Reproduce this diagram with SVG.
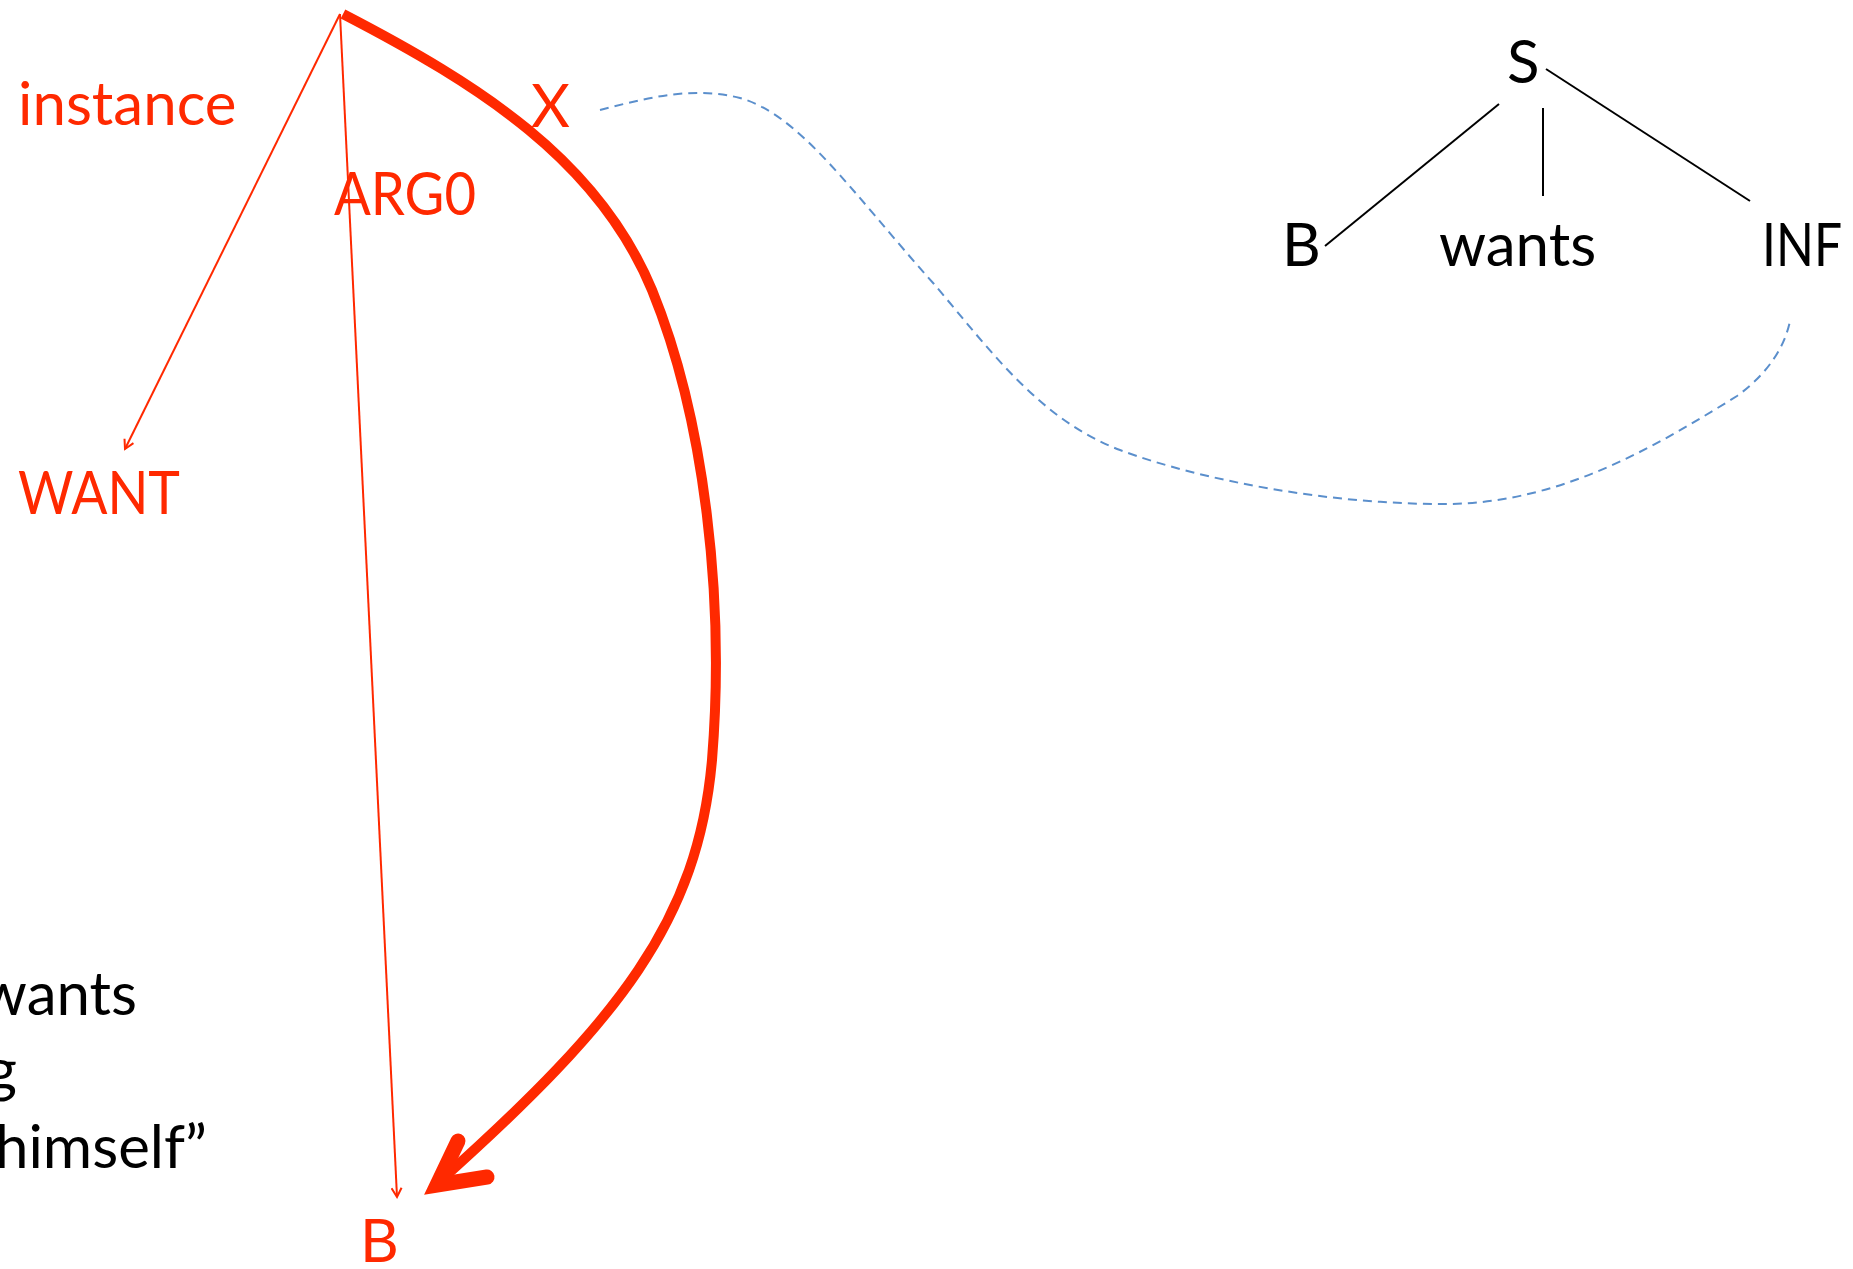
<svg xmlns="http://www.w3.org/2000/svg" width="1853" height="1269" viewBox="0 0 1853 1269">
<style>
text{font-family:Lato,"Liberation Sans",Arial,sans-serif;font-size:60px}
.r{fill:#FF2900}
.k{fill:#000}
.thin{stroke:#FF2900;stroke-width:2;fill:none}
.tree{stroke:#000;stroke-width:2;fill:none}
</style>
<defs>
<marker id="sa" viewBox="0 0 12 12" refX="10" refY="6" markerWidth="12" markerHeight="12" markerUnits="userSpaceOnUse" orient="auto">
<path d="M1,1 L10,6 L1,11" fill="none" stroke="#FF2900" stroke-width="2"/>
</marker>
</defs>
<g id="connectors">
<line class="thin" x1="340" y1="14" x2="125" y2="449" marker-end="url(#sa)"/>
<line class="thin" x1="340" y1="14" x2="397" y2="1197" marker-end="url(#sa)"/>
<path d="M343,14 C480,85 598,160 652,290 C705,420 725,600 712,760 C698,920 620,1020 440,1181" fill="none" stroke="#FF2900" stroke-width="10"/>
<path d="M458,1141 L437,1185 L487,1177" fill="none" stroke="#FF2900" stroke-width="15" stroke-linecap="round" stroke-linejoin="miter"/>
<path d="M600,110 C640,100 690,85 740,98 C800,115 850,190 934,284 C990,350 1040,420 1120,450 C1200,480 1330,505 1450,504 C1560,502 1650,450 1737,396 C1770,372 1785,345 1790,321" fill="none" stroke="#5B8FCC" stroke-width="2" stroke-dasharray="9,6"/>
<line class="tree" x1="1499" y1="104" x2="1325" y2="246"/>
<line class="tree" x1="1543" y1="108" x2="1543" y2="196"/>
<line class="tree" x1="1546" y1="69" x2="1750" y2="201"/>
</g>
<g id="instance"><text class="r" x="18" y="125">instance</text></g>
<g id="X"><text class="r" x="531" y="127">X</text></g>
<g id="ARG0"><text class="r" x="334" y="215" textLength="142" lengthAdjust="spacingAndGlyphs">ARG0</text></g>
<g id="WANT"><text class="r" x="18" y="514" textLength="162" lengthAdjust="spacingAndGlyphs">WANT</text></g>
<g id="B-red"><text class="r" x="360" y="1262">B</text></g>
<g id="S"><text class="k" x="1507" y="83">S</text></g>
<g id="B"><text class="k" x="1282" y="266">B</text></g>
<g id="wants"><text class="k" x="1439" y="266">wants</text></g>
<g id="INF"><text class="k" x="1762" y="266" textLength="80" lengthAdjust="spacingAndGlyphs">INF</text></g>
<g id="caption">
<text class="k" x="137" y="1015" text-anchor="end">wants</text>
<text class="k" x="17" y="1091" text-anchor="end">g</text>
<text class="k" x="207" y="1168" text-anchor="end">himself”</text>
</g>
</svg>
